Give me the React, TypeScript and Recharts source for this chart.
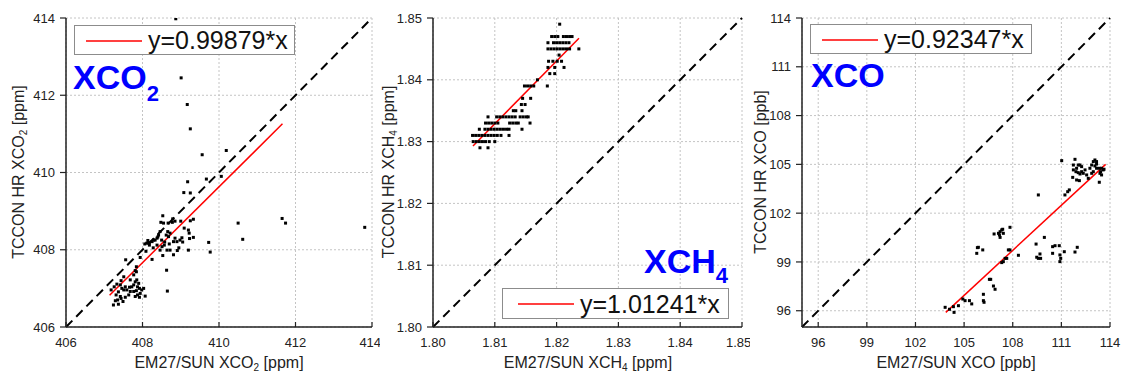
import {
  ScatterChart,
  Scatter,
  XAxis,
  YAxis,
  CartesianGrid,
  ReferenceLine,
  Legend,
} from "recharts";

const FONT = '"Liberation Sans", Arial, sans-serif';

// axis ticks
const co2Ticks = [406, 408, 410, 412, 414];
const ch4Ticks = [1.8, 1.81, 1.82, 1.83, 1.84, 1.85];
const coTicks = [96, 99, 102, 105, 108, 111, 114];

// EM27/SUN (x) vs TCCON HR (y)
const co2Points: [number, number][] = [
  [408.87, 413.98], [409.01, 412.45], [409.17, 411.76], [409.25, 411.13],
  [409.56, 410.46], [410.19, 410.57], [410.06, 409.9], [409.67, 409.83],
  [409.18, 409.76], [409.08, 409.48], [409.25, 409.47], [410.5, 408.69],
  [410.62, 408.27], [411.65, 408.81], [411.74, 408.69], [413.81, 408.58],
  [409.73, 408.19], [409.77, 407.94], [408.63, 407.47], [408.65, 406.93],
  [408.53, 408.88], [408.48, 408.71], [408.55, 408.69], [408.67, 408.69],
  [408.78, 408.71], [408.85, 408.74], [408.79, 408.8], [409.0, 408.74],
  [409.25, 408.75], [409.33, 408.79], [409.09, 408.56], [409.2, 408.51],
  [409.22, 408.43], [409.33, 408.32], [409.23, 408.29], [409.03, 408.31],
  [408.98, 408.25], [409.05, 408.2], [408.9, 408.21], [408.81, 408.21],
  [408.66, 408.47], [408.72, 408.43], [408.62, 408.38], [408.68, 408.34],
  [408.46, 408.47], [408.42, 408.38], [408.38, 408.3], [408.33, 408.25],
  [408.29, 408.25], [408.25, 408.21], [408.18, 408.18], [408.11, 408.17],
  [408.06, 408.15], [408.09, 407.96], [408.25, 407.75], [408.46, 407.99],
  [408.53, 407.85], [408.64, 407.99], [408.72, 407.99], [408.81, 407.87],
  [408.91, 407.98], [409.2, 407.99], [408.51, 408.08], [408.57, 408.12],
  [408.38, 408.12], [408.4, 408.33], [408.5, 408.25], [408.58, 408.2],
  [408.7, 408.15], [408.85, 408.3], [408.95, 408.05], [408.28, 408.05],
  [408.18, 408.12], [408.14, 408.24], [407.94, 407.8], [407.56, 407.74],
  [407.84, 407.56], [407.81, 407.46], [407.84, 407.43], [407.77, 407.35],
  [407.18, 406.96], [407.26, 407.04], [407.33, 407.11], [407.42, 407.09],
  [407.46, 407.0], [407.51, 406.96], [407.37, 406.91], [407.31, 406.83],
  [407.42, 406.79], [407.35, 406.7], [407.29, 406.68], [407.44, 406.74],
  [407.37, 406.59], [407.24, 406.57], [407.49, 406.66], [407.55, 407.04],
  [407.59, 406.96], [407.66, 407.03], [407.72, 407.04], [407.77, 407.09],
  [407.81, 407.17], [407.85, 407.22], [407.9, 407.13], [407.87, 407.04],
  [407.92, 407.0], [407.98, 406.96], [407.94, 406.87], [407.87, 406.83],
  [407.81, 406.79], [407.92, 406.77], [407.77, 406.92], [407.84, 406.94],
  [408.03, 407.0], [408.07, 406.8], [407.68, 406.92], [407.64, 406.83],
  [407.55, 406.77], [407.51, 407.3], [407.44, 407.2], [407.68, 407.22],
];

const ch4Points: [number, number][] = [
  [1.8205, 1.849],
  [1.8192, 1.847], [1.8197, 1.847], [1.8202, 1.847], [1.8211, 1.847],
  [1.8216, 1.847], [1.8221, 1.847], [1.8225, 1.847],
  [1.8186, 1.846], [1.8195, 1.846], [1.82, 1.846], [1.8205, 1.846],
  [1.821, 1.846], [1.8215, 1.846], [1.822, 1.846],
  [1.8186, 1.845], [1.8191, 1.845], [1.8196, 1.845], [1.8201, 1.845],
  [1.8206, 1.845], [1.8211, 1.845], [1.8216, 1.845], [1.8221, 1.845],
  [1.8236, 1.845],
  [1.8204, 1.844],
  [1.8187, 1.843], [1.8194, 1.843], [1.8201, 1.843], [1.8208, 1.843],
  [1.8186, 1.842], [1.8197, 1.842], [1.8212, 1.842],
  [1.8189, 1.841], [1.8197, 1.841],
  [1.8169, 1.84],
  [1.8148, 1.839], [1.8153, 1.839], [1.8158, 1.839], [1.8163, 1.839],
  [1.8185, 1.839],
  [1.8145, 1.837], [1.8158, 1.837],
  [1.8143, 1.836], [1.8149, 1.836],
  [1.813, 1.835], [1.8134, 1.835], [1.8144, 1.835],
  [1.8089, 1.834], [1.8103, 1.834], [1.8108, 1.834], [1.8113, 1.834],
  [1.8118, 1.834], [1.8123, 1.834], [1.8128, 1.834], [1.8133, 1.834],
  [1.8141, 1.834], [1.8146, 1.834], [1.8151, 1.834], [1.8154, 1.834],
  [1.8085, 1.833], [1.809, 1.833], [1.8095, 1.833], [1.81, 1.833],
  [1.8105, 1.833], [1.8124, 1.833], [1.8129, 1.833], [1.8134, 1.833],
  [1.8138, 1.833], [1.8157, 1.833],
  [1.8075, 1.832], [1.8084, 1.832], [1.8089, 1.832], [1.8094, 1.832],
  [1.8099, 1.832], [1.8104, 1.832], [1.8109, 1.832], [1.8114, 1.832],
  [1.8119, 1.832], [1.8123, 1.832], [1.8144, 1.832],
  [1.8064, 1.831], [1.8069, 1.831], [1.8074, 1.831], [1.8079, 1.831],
  [1.8084, 1.831], [1.8089, 1.831], [1.8094, 1.831], [1.8099, 1.831],
  [1.8104, 1.831], [1.811, 1.831], [1.8123, 1.831],
  [1.8065, 1.83], [1.807, 1.83], [1.8075, 1.83], [1.808, 1.83],
  [1.8085, 1.83], [1.8091, 1.83], [1.81, 1.83],
  [1.8076, 1.829], [1.8089, 1.829],
];

const coPoints: [number, number][] = [
  [103.83, 96.21], [104.1, 96.09], [104.38, 95.9], [104.34, 96.25],
  [104.65, 96.31], [104.92, 96.72], [105.06, 96.62], [105.33, 96.62],
  [105.47, 96.42], [106.19, 97.01], [106.19, 96.62], [106.23, 96.52],
  [106.56, 97.93], [106.64, 97.93], [106.81, 97.52], [106.91, 97.32],
  [107.32, 98.96], [107.42, 99.02], [107.53, 99.22], [107.63, 99.22],
  [107.73, 99.74], [107.83, 99.74], [105.78, 99.53], [105.82, 99.88],
  [105.88, 99.9], [106.15, 99.74], [106.85, 100.72], [107.12, 100.76],
  [107.22, 100.86], [107.32, 100.97], [107.38, 101.01], [107.22, 100.51],
  [107.18, 100.66], [107.42, 100.76], [107.83, 101.13], [108.35, 99.41],
  [109.44, 100.1], [109.95, 100.51], [109.48, 99.29], [109.58, 99.22],
  [109.68, 99.49], [109.72, 99.22], [110.46, 99.94], [110.61, 100.0],
  [110.46, 99.53], [110.87, 100.0], [110.91, 99.43], [110.96, 99.22],
  [110.91, 99.02], [111.18, 99.63], [111.84, 99.61], [111.98, 99.9],
  [109.58, 103.12], [111.02, 105.23], [111.22, 103.12], [111.39, 103.32],
  [111.49, 103.43], [111.7, 104.2], [111.84, 105.31], [111.74, 104.96],
  [111.94, 104.76], [112.04, 104.96], [112.15, 104.96], [112.25, 104.86],
  [112.04, 104.49], [112.15, 104.41], [112.35, 104.45], [112.46, 104.66],
  [111.94, 104.04], [112.11, 104.0], [112.56, 104.35], [112.87, 104.96],
  [112.97, 105.17], [113.07, 105.27], [113.17, 105.17], [112.76, 104.76],
  [112.87, 104.45], [112.97, 104.55], [113.17, 104.76], [113.34, 104.76],
  [113.48, 104.76], [113.58, 104.66], [113.38, 104.45], [113.48, 104.35],
  [113.34, 103.9], [113.07, 104.9], [112.66, 104.14], [111.74, 104.66],
  [111.9, 104.55], [112.25, 104.55], [113.17, 105.02], [113.42, 104.55],
  [113.63, 104.7],
];

// fitted line end points
const co2Fit = [
  { x: 407.14, y: 406.82 },
  { x: 411.66, y: 411.26 },
];
const ch4Fit = [
  { x: 1.80647, y: 1.82929 },
  { x: 1.82362, y: 1.84672 },
];
const coFit = [
  { x: 103.87, y: 95.9 },
  { x: 113.73, y: 105.0 },
];

const fitLabels = ["y=0.99879*x", "y=1.01241*x", "y=0.92347*x"];

const Dot = (p: any) => (
  <rect x={p.cx - 1.5} y={p.cy - 1.5} width={3} height={3} fill="#000" />
);

function FitLegend({ w, h, lineX, textX, label }: any) {
  return (
    <svg width={w} height={h} style={{ display: "block" }}>
      <rect x={0.5} y={0.5} width={w - 1} height={h - 1} fill="#fff" stroke="#8c8c8c" />
      <line x1={lineX} x2={lineX + 56} y1={16} y2={16} stroke="#ff0000" strokeWidth={1.5} />
      <text x={textX} y={h - 6} fontSize={25} fontFamily={FONT} fill="#111">
        {label}
      </text>
    </svg>
  );
}

function Panel({ left, width, yAxisWidth, marginRight, domain, ticks, fmt, points, fit, legend }: any) {
  const data = points.map(([x, y]: [number, number]) => ({ x, y }));
  const tickStyle = { fontSize: 13, fill: "#222", fontFamily: FONT };
  const axisLine = { stroke: "#222", strokeWidth: 1.5 };
  const tickLine = { stroke: "#222", strokeWidth: 1.2 };
  return (
    <div style={{ position: "absolute", left, top: 0 }}>
      <ScatterChart
        width={width}
        height={374}
        margin={{ top: 18, right: marginRight, bottom: 0, left: 0 }}
      >
        <CartesianGrid strokeDasharray="2 2" stroke="#c4c4c4" />
        <XAxis
          dataKey="x"
          type="number"
          domain={domain}
          ticks={ticks}
          allowDataOverflow
          height={47}
          tickFormatter={fmt}
          tickSize={-5}
          tickMargin={16}
          tick={tickStyle}
          axisLine={axisLine}
          tickLine={tickLine}
        />
        <XAxis
          xAxisId="top"
          orientation="top"
          type="number"
          domain={domain}
          ticks={ticks}
          allowDataOverflow
          mirror
          height={0}
          tickFormatter={() => ""}
          tickSize={5}
          axisLine={axisLine}
          tickLine={tickLine}
        />
        <YAxis
          dataKey="y"
          type="number"
          domain={domain}
          ticks={ticks}
          allowDataOverflow
          width={yAxisWidth}
          tickFormatter={fmt}
          tickSize={6}
          tickMargin={5}
          tick={tickStyle}
          axisLine={axisLine}
          tickLine={tickLine}
        />
        <YAxis
          yAxisId="right"
          orientation="right"
          type="number"
          domain={domain}
          ticks={ticks}
          allowDataOverflow
          mirror
          width={0}
          tickFormatter={() => ""}
          tickSize={5}
          axisLine={axisLine}
          tickLine={tickLine}
        />
        <ReferenceLine
          segment={[
            { x: domain[0], y: domain[0] },
            { x: domain[1], y: domain[1] },
          ]}
          stroke="#000"
          strokeWidth={2}
          strokeDasharray="9 5.5"
        />
        <Scatter data={data} shape={Dot} isAnimationActive={false} />
        <ReferenceLine segment={fit} stroke="#ff0000" strokeWidth={1.5} />
        <Legend
          layout="horizontal"
          verticalAlign="middle"
          align="center"
          wrapperStyle={{ left: legend.x, top: legend.y, width: "auto" }}
          content={() => <FitLegend {...legend} />}
        />
      </ScatterChart>
    </div>
  );
}

function Title({ x, y, rotate, main, sub, tail }: any) {
  return (
    <text
      x={x}
      y={y}
      textAnchor="middle"
      transform={rotate ? `rotate(-90 ${x} ${y})` : undefined}
      fontSize={16}
      fill="#222"
      fontFamily={FONT}
    >
      {main}
      {sub && (
        <tspan fontSize={10} dy={3}>
          {sub}
        </tspan>
      )}
      <tspan dy={sub ? -3 : 0}>{tail}</tspan>
    </text>
  );
}

function Tag({ x, y, main, sub, subDy }: any) {
  return (
    <text x={x} y={y} fontSize={34} fontWeight="bold" fill="#0000ff" fontFamily={FONT}>
      {main}
      {sub && (
        <tspan fontSize={22} dy={subDy}>
          {sub}
        </tspan>
      )}
    </text>
  );
}

export default function App() {
  const intFmt = (v: number) => `${v}`;
  const ch4Fmt = (v: number) => v.toFixed(2);
  return (
    <div style={{ position: "absolute", left: 0, top: 0, width: 1121, height: 374, background: "#fff" }}>
      <Panel
        left={0}
        width={380}
        yAxisWidth={66}
        marginRight={8}
        domain={[406, 414]}
        ticks={co2Ticks}
        fmt={intFmt}
        points={co2Points}
        fit={co2Fit}
        legend={{ x: 74, y: 25, w: 221, h: 30, lineX: 12, textX: 74, label: fitLabels[0] }}
      />
      <Panel
        left={370}
        width={380}
        yAxisWidth={63}
        marginRight={8}
        domain={[1.8, 1.85]}
        ticks={ch4Ticks}
        fmt={ch4Fmt}
        points={ch4Points}
        fit={ch4Fit}
        legend={{ x: 132, y: 288, w: 227, h: 31, lineX: 16, textX: 78, label: fitLabels[1] }}
      />
      <Panel
        left={740}
        width={381}
        yAxisWidth={62}
        marginRight={11}
        domain={[95, 114]}
        ticks={coTicks}
        fmt={intFmt}
        points={coPoints}
        fit={coFit}
        legend={{ x: 70, y: 24, w: 222, h: 30, lineX: 12, textX: 74, label: fitLabels[2] }}
      />
      <svg
        width={1121}
        height={374}
        style={{ position: "absolute", left: 0, top: 0, pointerEvents: "none" }}
      >
        <Title x={219} y={368} main="EM27/SUN XCO" sub="2" tail=" [ppm]" />
        <Title x={24} y={172} rotate main="TCCON HR XCO" sub="2" tail=" [ppm]" />
        <Title x={588} y={368} main="EM27/SUN XCH" sub="4" tail=" [ppm]" />
        <Title x={394} y={172} rotate main="TCCON HR XCH" sub="4" tail=" [ppm]" />
        <Title x={956} y={368} main="EM27/SUN XCO [ppb]" />
        <Title x={766} y={172} rotate main="TCCON HR XCO [ppb]" />
        <Tag x={73} y={89} main="XCO" sub="2" subDy={12} />
        <Tag x={644} y={273} main="XCH" sub="4" subDy={10} />
        <Tag x={811} y={87} main="XCO" />
      </svg>
    </div>
  );
}
